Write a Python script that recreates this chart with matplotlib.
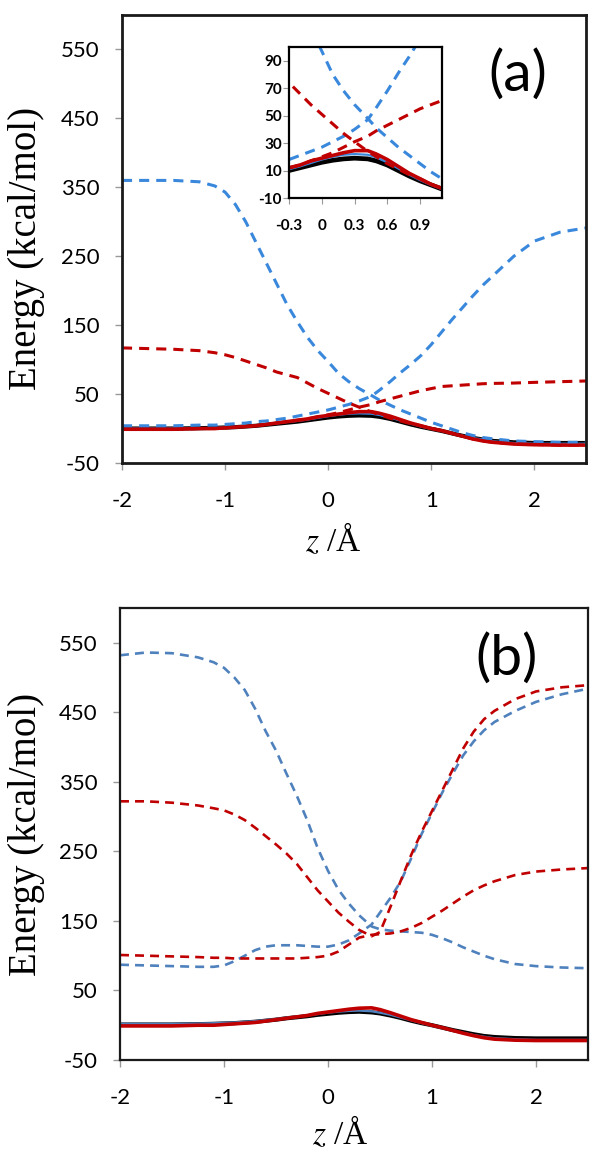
import matplotlib
matplotlib.use("Agg")
import matplotlib.pyplot as plt

plt.rcParams["mathtext.fontset"] = "stix"
plt.rcParams["axes.unicode_minus"] = False

# ---- panel (a) data (kcal/mol vs z in Angstrom) ----
z_a = [-2.0, -1.75, -1.5, -1.25, -1.1, -1.0, -0.9, -0.8, -0.7, -0.6, -0.5, -0.4,
       -0.3, -0.2, -0.1, 0.0, 0.1, 0.2, 0.3, 0.42, 0.5, 0.6, 0.7, 0.8, 0.9, 1.0,
       1.1, 1.2, 1.3, 1.4, 1.5, 1.6, 1.8, 2.0, 2.25, 2.5]
black_a = [0, 0, 0, 0.5, 1, 1.5, 2, 3, 4, 5.5, 7, 8.5, 10, 12, 14, 16, 17.5, 18.5,
           19, 18.5, 17, 14, 10, 6, 2.5, -0.5, -3.5, -7, -10.5, -13.5, -16, -18,
           -20, -21, -21, -21]
blue_a = [0, 0, 0, 0.5, 1, 1.5, 2, 3, 4.5, 6, 7.5, 9.5, 11, 13, 15.5, 18, 20,
          21.5, 22, 21.5, 19.5, 16, 11.5, 7, 3, -0.5, -3.5, -7, -10.5, -13.5, -16,
          -18.5, -21, -22, -22, -22]
red_a = [-1, -1, -1, 0, 0, 1, 2, 3, 4, 6, 8, 10, 12, 14, 17, 19, 21, 23, 24.5,
         24.5, 22, 18, 13, 8, 4, 0, -3, -7, -11, -15, -18, -20, -22.5, -23.5, -24,
         -24]
blue_dash1_a = [360, 360, 360, 358, 352, 343, 325, 300, 270, 240, 210, 180, 155,
                132, 113, 97, 80, 68, 58, 48, 41, 34, 27, 21, 15, 9, 4, -1, -6, -10,
                -13, -15, -18, -19, -20, -20]
blue_dash2_a = [4, 4, 4, 5, 5, 6, 7, 8, 10, 11, 13, 15, 18, 21, 24, 27, 31, 35,
                40, 47, 56, 68, 81, 93, 106, 122, 140, 158, 175, 192, 208, 222, 250,
                272, 285, 291]
red_dash1_a = [117, 116, 115, 113, 110, 107, 103, 98, 93, 88, 82, 78, 74, 66, 58,
               51, 44, 37, 31, 24, 20, 15, 11, 7, 4, 0, -3, -7, -11, -15, -18, -20,
               -22, -23, -24, -24]
red_dash2_a = [-1, -1, -1, 0, 0, 1, 2, 3, 4, 6, 8, 10, 12, 14, 17, 20, 23, 27,
               31, 35, 39, 43, 47, 51, 55, 58, 61, 62, 63, 64, 65, 65.5, 66, 67, 68,
               69]

# ---- panel (b) data ----
z_b = z_a
black_b = [1, 1, 1, 1.5, 2, 2.5, 3, 4, 5, 6.5, 8, 10, 11.5, 13, 15, 16.5, 18, 19,
           19.5, 18.5, 17, 14, 10.5, 6.5, 3, 0, -3.5, -7, -10, -13, -15.5, -17,
           -18.5, -19, -19, -19]
blue_b = [2, 2, 2, 2.5, 3, 3.5, 4, 5, 6, 7.5, 9, 11, 12.5, 14, 16, 18, 19.5, 20.5,
          21, 20, 18, 15, 11, 7, 3, -0.5, -4, -7.5, -11, -14, -16.5, -18.5, -20,
          -21, -21, -21]
red_b = [-1, -1, -1, 0, 0, 1, 2, 3, 4, 6, 8, 10, 12, 14, 17, 19, 21, 23, 24.5,
         25, 22.5, 18, 13, 8, 4, 0, -3.5, -7.5, -11.5, -15, -18, -20, -21.5, -22,
         -22, -22]
blue_dash1_b = [532, 536, 535, 529, 522, 514, 500, 482, 455, 423, 395, 362, 330,
                295, 255, 222, 195, 175, 158, 142, 138, 136, 135, 134, 133, 130, 125,
                119, 112, 106, 100, 95, 88, 85, 83, 82]
blue_dash2_b = [87, 86, 85, 84, 84, 86, 92, 100, 108, 113, 115, 115, 115, 114, 113,
                113, 116, 122, 132, 145, 162, 183, 207, 240, 275, 305, 335, 362, 388,
                408, 424, 436, 452, 465, 476, 484]
red_dash1_b = [322, 322, 320, 316, 312, 309, 303, 295, 284, 272, 260, 247, 232,
               213, 194, 178, 162, 149, 137, 128, 134, 170, 208, 245, 278, 308, 338,
               368, 398, 422, 440, 452, 469, 480, 486, 489]
red_dash2_b = [101, 100, 99, 98, 97, 97, 96, 96, 96, 96, 96, 96, 96, 97, 98, 100,
               106, 116, 126, 130, 131, 132, 135, 140, 147, 156, 165, 175, 185, 194,
               201, 207, 216, 221, 224, 226]

y_ticks = [-50, 50, 150, 250, 350, 450, 550]
x_ticks = [-2, -1, 0, 1, 2]
inset_xticks = [-0.3, 0, 0.3, 0.6, 0.9]
inset_xlabels = ["-0.3", "0", "0.3", "0.6", "0.9"]
inset_yticks = [-10, 10, 30, 50, 70, 90]

BLUE_A = "#3a88dc"
BLUE_B = "#4f81bd"
RED = "#c00000"
TICK_FONT = "Lato"
W, H = 602, 1156


def box(l, t, r, b):
    return [l / W, 1 - b / H, (r - l) / W, (b - t) / H]


def draw_curves(ax, z, black, blue, red, dashes, blue_c, lw_d, pat, lw_k=3.0):
    ax.plot(z, black, color="black", lw=lw_k)
    ax.plot(z, blue, color=blue_c, lw=1.6)
    ax.plot(z, red, color=RED, lw=2.6)
    for ys, c in dashes:
        ax.plot(z, ys, color=c, lw=lw_d, dashes=pat)


def style_main(ax, spine_lw):
    ax.set_xlim(-2, 2.5)
    ax.set_ylim(-50, 600)
    ax.set_xticks(x_ticks)
    ax.set_yticks(y_ticks)
    for s in ax.spines.values():
        s.set_linewidth(spine_lw)
        s.set_color("#1a1a1a")
    ax.tick_params(axis="both", direction="out", length=5, width=1,
                   color="#999999", labelsize=16)
    ax.tick_params(axis="x", pad=15)
    ax.tick_params(axis="y", pad=11)
    for lab in ax.get_xticklabels() + ax.get_yticklabels():
        lab.set_family(TICK_FONT)
    ax.set_ylabel("Energy (kcal/mol)", family="Liberation Serif", fontsize=28)
    ax.set_xlabel(r"$z$ /Å", family="Liberation Serif", fontsize=24)
    ax.xaxis.label.set_va("center")


fig = plt.figure(figsize=(W / 100, H / 100), dpi=100)

# panel (a)
ax_a = fig.add_axes(box(122, 15, 586, 463))
draw_curves(ax_a, z_a, black_a, blue_a, red_a,
            [(blue_dash1_a, BLUE_A), (blue_dash2_a, BLUE_A),
             (red_dash1_a, RED), (red_dash2_a, RED)],
            BLUE_A, 2.2, (3.3, 2.3))
style_main(ax_a, 2.0)
ax_a.yaxis.set_label_coords(-0.165, 0.48)
ax_a.xaxis.set_label_coords(0.455, -0.172)
ax_a.text(1.84, 514, "(a)", family=TICK_FONT, fontsize=41,
          ha="center", va="center")

# inset of (a)
ins = fig.add_axes(box(289, 47, 442, 198))
draw_curves(ins, z_a, black_a, blue_a, red_a,
            [(blue_dash1_a, BLUE_A), (blue_dash2_a, BLUE_A),
             (red_dash1_a, RED), (red_dash2_a, RED)],
            BLUE_A, 2.2, (3.3, 2.3), lw_k=3.4)
ins.set_xlim(-0.3, 1.1)
ins.set_ylim(-10, 100)
ins.set_xticks(inset_xticks)
ins.set_xticklabels(inset_xlabels)
ins.set_yticks(inset_yticks)
for s in ins.spines.values():
    s.set_linewidth(1.6)
    s.set_color("black")
ins.tick_params(axis="both", direction="out", length=4, width=0.8,
                color="#999999", labelsize=11)
ins.tick_params(axis="x", pad=11)
ins.tick_params(axis="y", pad=1)
for lab in ins.get_xticklabels() + ins.get_yticklabels():
    lab.set_family(TICK_FONT)
    lab.set_fontweight("bold")

# panel (b)
ax_b = fig.add_axes(box(120, 608, 588, 1060))
draw_curves(ax_b, z_b, black_b, blue_b, red_b,
            [(blue_dash1_b, BLUE_B), (blue_dash2_b, BLUE_B),
             (red_dash1_b, RED), (red_dash2_b, RED)],
            BLUE_B, 1.9, (3.4, 2.3))
style_main(ax_b, 1.6)
ax_b.yaxis.set_label_coords(-0.16, 0.5)
ax_b.xaxis.set_label_coords(0.47, -0.162)
ax_b.text(1.72, 527, "(b)", family=TICK_FONT, fontsize=41,
          ha="center", va="center")

fig.savefig("out.png", dpi=100)
